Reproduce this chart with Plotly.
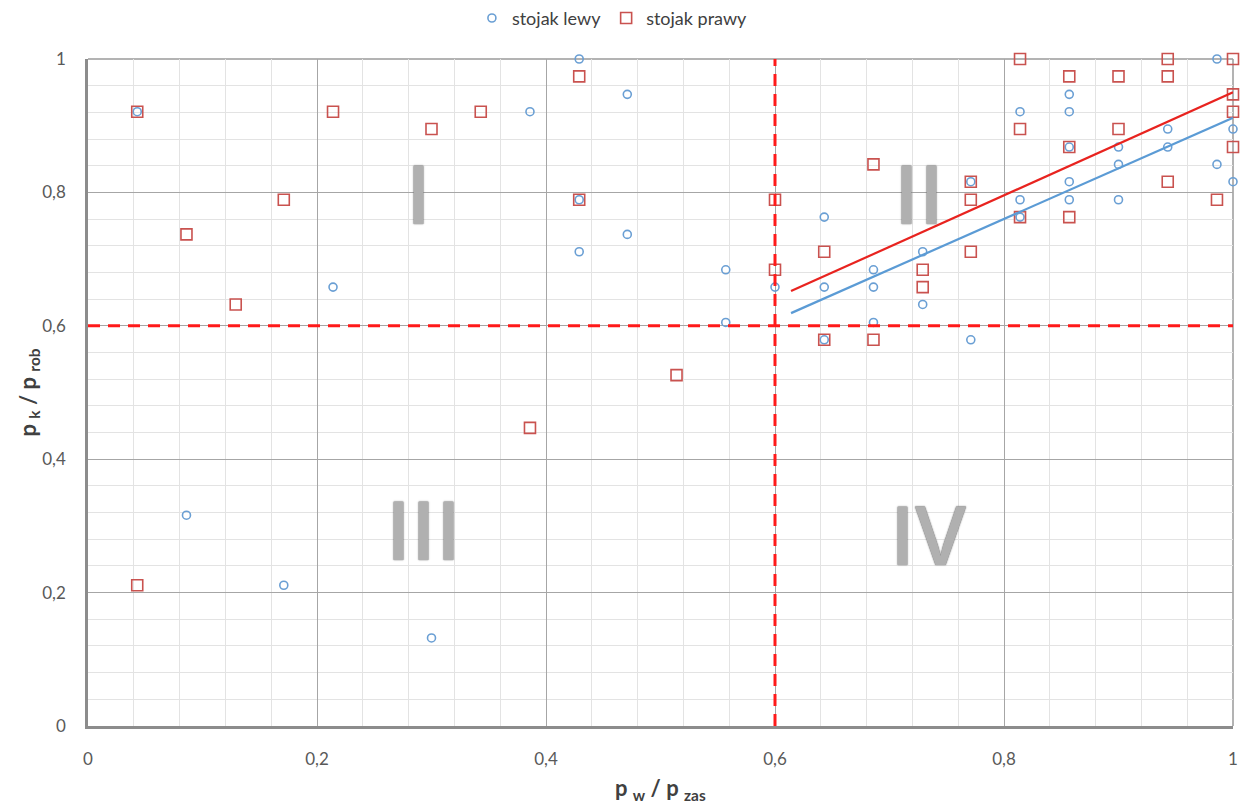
import plotly.graph_objects as go

# ---- data ----
lewy_x = [0.043, 0.214, 0.429, 0.471, 0.386, 0.429, 0.471, 0.429, 0.557, 0.557,
          0.6, 0.643, 0.643, 0.643, 0.686, 0.686, 0.686, 0.729, 0.729, 0.771,
          0.771, 0.814, 0.814, 0.814, 0.857, 0.857, 0.857, 0.857, 0.857, 0.9,
          0.9, 0.9, 0.943, 0.943, 0.986, 0.986, 1.0, 1.0, 0.086, 0.171, 0.3]
lewy_y = [0.921, 0.658, 1.0, 0.947, 0.921, 0.789, 0.737, 0.711, 0.684, 0.605,
          0.658, 0.763, 0.658, 0.579, 0.684, 0.658, 0.605, 0.711, 0.632, 0.816,
          0.579, 0.921, 0.789, 0.763, 0.947, 0.921, 0.868, 0.816, 0.789, 0.868,
          0.842, 0.789, 0.895, 0.868, 1.0, 0.842, 0.895, 0.816, 0.316, 0.211, 0.132]

prawy_x = [0.043, 0.214, 0.3, 0.343, 0.171, 0.086, 0.129, 0.429, 0.429, 0.6,
           0.6, 0.643, 0.643, 0.386, 0.514, 0.043, 0.686, 0.686, 0.729, 0.729,
           0.771, 0.771, 0.771, 0.814, 0.814, 0.814, 0.857, 0.857, 0.857, 0.9,
           0.9, 0.943, 0.943, 0.943, 0.986, 1.0, 1.0, 1.0, 1.0]
prawy_y = [0.921, 0.921, 0.895, 0.921, 0.789, 0.737, 0.632, 0.974, 0.789, 0.789,
           0.684, 0.711, 0.579, 0.447, 0.526, 0.211, 0.842, 0.579, 0.684, 0.658,
           0.816, 0.789, 0.711, 1.0, 0.895, 0.763, 0.974, 0.868, 0.763, 0.974,
           0.895, 1.0, 0.974, 0.816, 0.789, 1.0, 0.947, 0.921, 0.868]

trend_x = [0.614, 1.0]
trend_lewy_y = [0.619, 0.912]
trend_prawy_y = [0.652, 0.950]

threshold = 0.6
x_ticks = [0, 0.2, 0.4, 0.6, 0.8, 1.0]
y_ticks = [0, 0.2, 0.4, 0.6, 0.8, 1.0]

quadrant_labels = ["I", "II", "III", "IV"]
quadrant_x = [0.289, 0.726, 0.293, 0.734]
quadrant_y = [0.80, 0.80, 0.297, 0.289]

BLUE = "#6a9fd4"
RED = "#c9524f"
FONT = "Lato"

fig = go.Figure()

fig.add_trace(go.Scatter(
    x=lewy_x, y=lewy_y, mode="markers", name="stojak lewy", cliponaxis=False,
    marker=dict(symbol="circle-open", size=8, color=BLUE, line=dict(width=1.6, color=BLUE)),
))
fig.add_trace(go.Scatter(
    x=prawy_x, y=prawy_y, mode="markers", name="stojak prawy", cliponaxis=False,
    marker=dict(symbol="square-open", size=11, color=RED, line=dict(width=1.6, color=RED)),
))
fig.add_trace(go.Scatter(
    x=trend_x, y=trend_prawy_y, mode="lines", showlegend=False,
    line=dict(color="#e8231f", width=2.2), hoverinfo="skip",
))
fig.add_trace(go.Scatter(
    x=trend_x, y=trend_lewy_y, mode="lines", showlegend=False,
    line=dict(color="#5b9bd5", width=2.2), hoverinfo="skip",
))

# threshold dashed lines
fig.add_shape(type="line", xref="x", yref="y", x0=threshold, x1=threshold, y0=0, y1=1,
              line=dict(color="#ff1a1a", width=3, dash="12px,8px"))
fig.add_shape(type="line", xref="x", yref="y", x0=0, x1=1, y0=threshold, y1=threshold,
              line=dict(color="#ff1a1a", width=3, dash="12px,8px"))

# top/right borders
fig.add_shape(type="line", xref="paper", yref="paper", x0=0, x1=1, y0=1, y1=1,
              line=dict(color="#9a9a9a", width=1.5), layer="below")
fig.add_shape(type="line", xref="paper", yref="paper", x0=1, x1=1, y0=0, y1=1,
              line=dict(color="#9a9a9a", width=1.5), layer="below")

for lab, qx, qy in zip(quadrant_labels, quadrant_x, quadrant_y):
    fig.add_annotation(x=qx, y=qy, xref="x", yref="y", text=lab, showarrow=False,
                       font=dict(family="Open Sans", size=82, color="#b0b0b0", weight=600,
                                 shadow="0px 0px 1.5px #4a4a4a"),
                       xanchor="center", yanchor="middle")

# axis titles
fig.add_annotation(x=0.5, y=0, xref="paper", yref="paper", yanchor="top", yshift=-46,
                   showarrow=False,
                   text="<b>p </b><sub><b>w</b></sub><b> / p </b><sub><b>zas</b></sub>",
                   font=dict(family=FONT, size=22, color="#404040"))
fig.add_annotation(x=0, y=0.5, xref="paper", yref="paper", xanchor="center", xshift=-60,
                   showarrow=False, textangle=-90,
                   text="<b>p </b><sub><b>k</b></sub><b> / p </b><sub><b>rob</b></sub>",
                   font=dict(family=FONT, size=22, color="#404040"))

axis_common = dict(
    range=[0, 1], dtick=0.2, tick0=0,
    showgrid=True, gridcolor="#a6a6a6", gridwidth=1,
    minor=dict(dtick=0.04, showgrid=True, gridcolor="#e3e3e3", gridwidth=1),
    showline=True, linecolor="#8c8c8c", linewidth=2.5,
    zeroline=False,
    ticks="outside", ticklen=16, tickcolor="rgba(0,0,0,0)",
    tickfont=dict(family=FONT, size=17, color="#595959"),
    fixedrange=True,
)
fig.update_xaxes(**axis_common, tickvals=x_ticks)
fig.update_yaxes(**axis_common, tickvals=y_ticks)

fig.update_layout(
    width=1246, height=805,
    margin=dict(l=88, r=13, t=59, b=79, autoexpand=False),
    paper_bgcolor="white", plot_bgcolor="white",
    separators=",.",
    font=dict(family=FONT, color="#404040"),
    legend=dict(orientation="h", x=0.458, xanchor="center", y=1.061, yanchor="middle",
                font=dict(family=FONT, size=18, color="#404040"),
                itemwidth=30, tracegroupgap=0, bgcolor="rgba(0,0,0,0)"),
    showlegend=True,
)

fig.write_html("out.html", config={"displayModeBar": False},
               post_script="document.body.style.margin='0';document.body.style.overflow='hidden';")
